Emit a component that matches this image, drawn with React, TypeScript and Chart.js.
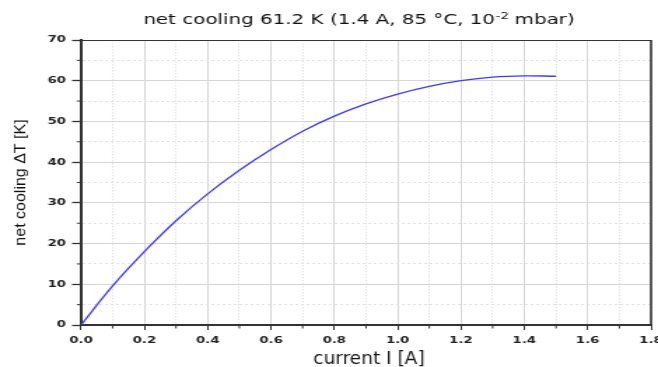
import React, { useEffect, useRef } from 'react';
import { Chart, registerables } from 'chart.js';

Chart.register(...registerables);

// ---- data ----
const currentA = [0, 0.1, 0.2, 0.3, 0.4, 0.5, 0.6, 0.7, 0.8, 0.9, 1.0, 1.1, 1.2, 1.3, 1.4, 1.5];
const coolingK = [0, 9.6, 18.0, 25.6, 32.2, 38.0, 43.1, 47.6, 51.3, 54.3, 56.7, 58.6, 60.0, 60.9, 61.2, 61.1];
const xRange = [0, 1.8];
const yRange = [0, 70];
const titleMain = 'net cooling 61.2 K (1.4 A, 85 °C, 10';
const titleSup = '-2';
const titleEnd = ' mbar)';
const xTitle = 'current I [A]';
const yTitle = 'net cooling ΔT [K]';

// ---- layout (the reference is horizontally stretched) ----
const S = 1.4;
const W = 658 / S;
const H = 367;

const isMajorX = (v: number) => Math.round(v * 10) % 2 === 0;
const isMajorY = (v: number) => Math.round(v) % 10 === 0;

const overlay = {
  id: 'overlay',
  afterDraw(chart: any) {
    const { ctx, chartArea: a, scales } = chart;
    const xs = scales.x;
    const ys = scales.y;
    ctx.save();
    // minor tick marks
    ctx.strokeStyle = '#333';
    ctx.lineWidth = 1;
    ctx.beginPath();
    xs.ticks.forEach((t: any) => {
      if (!isMajorX(t.value)) {
        const px = xs.getPixelForValue(t.value);
        ctx.moveTo(px, a.bottom);
        ctx.lineTo(px, a.bottom + 3.5);
      }
    });
    ys.ticks.forEach((t: any) => {
      if (!isMajorY(t.value)) {
        const py = ys.getPixelForValue(t.value);
        ctx.moveTo(a.left - 3, py);
        ctx.lineTo(a.left, py);
      }
    });
    ctx.stroke();
    // top and right frame
    ctx.strokeStyle = '#333';
    ctx.lineWidth = 1.2;
    ctx.beginPath();
    ctx.moveTo(a.left, a.top + 0.5);
    ctx.lineTo(a.right, a.top + 0.5);
    ctx.stroke();
    ctx.lineWidth = 1.6;
    ctx.beginPath();
    ctx.moveTo(a.right, a.top);
    ctx.lineTo(a.right, a.bottom);
    ctx.stroke();

    // main title with superscript
    ctx.fillStyle = '#111';
    ctx.textBaseline = 'alphabetic';
    ctx.textAlign = 'left';
    const mainFont = '14.2px "DejaVu Sans"';
    const supFont = '9.5px "DejaVu Sans"';
    ctx.font = mainFont;
    const w1 = ctx.measureText(titleMain).width;
    const w3 = ctx.measureText(titleEnd).width;
    ctx.font = supFont;
    const w2 = ctx.measureText(titleSup).width;
    const total = w1 + w2 + w3;
    const x0 = 359 / S - total / 2;
    const by = 24;
    ctx.font = mainFont;
    ctx.fillText(titleMain, x0, by);
    ctx.font = supFont;
    ctx.fillText(titleSup, x0 + w1 + 0.5, by - 5.5);
    ctx.font = mainFont;
    ctx.fillText(titleEnd, x0 + w1 + w2, by);

    // y axis title (not stretched)
    ctx.save();
    ctx.translate(20.5 / S, (a.top + a.bottom) / 2);
    ctx.scale(1 / S, 1);
    ctx.rotate(-Math.PI / 2);
    ctx.textAlign = 'center';
    ctx.textBaseline = 'middle';
    ctx.font = '16px "Liberation Sans"';
    ctx.fillText(yTitle, 0, 0);
    ctx.restore();

    // x axis title
    ctx.save();
    ctx.translate(369 / S, 364);
    ctx.scale(1.09 / S, 1);
    ctx.textAlign = 'center';
    ctx.textBaseline = 'alphabetic';
    ctx.font = '17px "DejaVu Sans"';
    ctx.fillText(xTitle, 0, 0);
    ctx.restore();

    ctx.restore();
  },
};

export default function App() {
  const ref = useRef<HTMLCanvasElement>(null);
  useEffect(() => {
    if (!ref.current) return;
    const tickFont = { family: '"DejaVu Sans"', size: 9.5, weight: 'bold' };
    const chart = new Chart(ref.current, {
      type: 'line',
      data: {
        datasets: [
          {
            data: currentA.map((x, i) => ({ x, y: coolingK[i] })),
            borderColor: '#3b3bff',
            borderWidth: 1.3,
            pointRadius: 0,
            fill: false,
            tension: 0.4,
          },
        ],
      },
      options: {
        responsive: false,
        animation: false,
        devicePixelRatio: 1,
        events: [],
        layout: { padding: { top: 40, right: 5, left: 0, bottom: 0 } },
        plugins: {
          legend: { display: false },
          title: { display: false },
          tooltip: { enabled: false },
        },
        scales: {
          x: {
            type: 'linear',
            min: xRange[0],
            max: xRange[1],
            afterFit: (s: any) => {
              s.height = 367 - 325;
              s.paddingLeft = 0;
              s.paddingRight = 0;
            },
            ticks: {
              stepSize: 0.1,
              autoSkip: false,
              maxRotation: 0,
              minRotation: 0,
              padding: 5,
              color: '#222',
              font: tickFont,
              callback: (v: any) => (isMajorX(Number(v)) ? (Math.round(Number(v) * 10) / 10).toFixed(1) : ''),
            },
            grid: {
              color: (c: any) => (c.tick && isMajorX(c.tick.value) ? '#d6d6d6' : '#e2e2e2'),
              lineWidth: 1,
              tickLength: 5,
              tickWidth: 1,
              tickColor: (c: any) => (c.tick && isMajorX(c.tick.value) ? '#333' : 'rgba(0,0,0,0)'),
            },
            border: {
              display: true,
              color: '#333',
              width: 2,
              dash: (c: any) => (c.tick && !isMajorX(c.tick.value) ? [1.5, 1.5] : []),
            },
          },
          y: {
            type: 'linear',
            min: yRange[0],
            max: yRange[1],
            afterFit: (s: any) => {
              s.width = 81 / S;
              s.paddingTop = 0;
              s.paddingBottom = 0;
            },
            ticks: {
              stepSize: 5,
              autoSkip: false,
              padding: 4.3,
              color: '#222',
              font: tickFont,
              callback: (v: any) => (isMajorY(Number(v)) ? String(Math.round(Number(v))) : ''),
            },
            grid: {
              color: (c: any) => (c.tick && isMajorY(c.tick.value) ? '#d6d6d6' : '#e2e2e2'),
              lineWidth: 1,
              tickLength: 6.4,
              tickWidth: 1.3,
              tickColor: (c: any) => (c.tick && isMajorY(c.tick.value) ? '#333' : 'rgba(0,0,0,0)'),
            },
            border: {
              display: true,
              color: '#333',
              width: 2,
              dash: (c: any) => (c.tick && !isMajorY(c.tick.value) ? [2, 2] : []),
            },
          },
        },
      },
      plugins: [overlay],
    } as any);
    return () => chart.destroy();
  }, []);
  return (
    <div style={{ position: 'fixed', left: 0, top: 0, width: 658, height: 367, background: '#fff', overflow: 'hidden' }}>
      <canvas ref={ref} width={W} height={H} style={{ width: '658px', height: '367px', display: 'block' }} />
    </div>
  );
}
